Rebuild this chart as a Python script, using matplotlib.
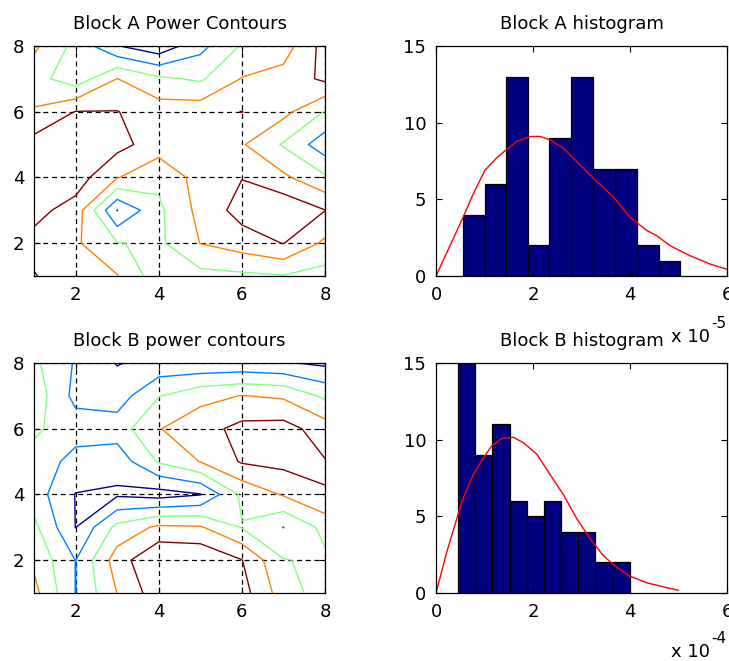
import numpy as np
import matplotlib
matplotlib.use("Agg")
import matplotlib.pyplot as plt

plt.rcParams['font.family'] = ['DejaVu Sans']
plt.rcParams['font.size'] = 13

# grid coordinates of the contour maps
grid_x = [1, 2, 3, 4, 5, 6, 7, 8]
grid_y = [1, 2, 3, 4, 5, 6, 7, 8]

# Block A power, rows are y = 1..8, columns x = 1..8
power_a = [
    [5.05, 4.5, 4.05, 2.4, 2.7, 2.8, 2.95, 2.6],
    [4.7, 4.15, 3.05, 2.8, 4.02, 4.5, 5.03, 3.8],
    [5.3, 4.6, 0.98, 2.8, 4.3, 5.4, 5.8, 5.02],
    [5.5, 5.5, 4.05, 3.23, 4.4, 4.97, 4.2, 3.15],
    [5.4, 5.6, 5.33, 4.5, 4.5, 4.1, 2.9, 1.4],
    [4.1, 5.03, 5.03, 4.5, 4.6, 5.02, 4.3, 2.95],
    [3.4, 2.4, 4.02, 3.2, 2.85, 4.05, 4.4, 5.2],
    [4.2, 2.7, 1.05, 0.3, 1.7, 3.1, 3.5, 5.4],
]

# Block B power
power_b = [
    [4.3, 1.98, 4.02, 5.6, 6.0, 5.4, 3.5, 2.5],
    [3.8, 1.98, 4.5, 6.0, 5.9, 5.03, 3.05, 2.8],
    [3.25, 0.98, 3.3, 4.2, 4.1, 2.95, 1.98, 3.3],
    [2.5, 0.97, 0.85, 0.6, 0.95, 3.2, 4.1, 4.98],
    [2.7, 1.6, 1.4, 3.1, 4.03, 5.1, 5.3, 5.05],
    [3.15, 2.5, 2.5, 3.95, 4.6, 5.3, 5.4, 4.5],
    [3.6, 1.7, 1.5, 2.95, 3.7, 4.03, 3.85, 2.8],
    [3.2, 1.9, 0.95, 1.3, 1.2, 1.25, 1.1, 0.8],
]

contour_levels = [1, 2, 3, 4, 5]

# histograms (x in units of 1e-5 for A, 1e-4 for B)
hist_a_edges = [0.55, 1.0, 1.45, 1.89, 2.34, 2.79, 3.24, 3.69, 4.14, 4.59, 5.04]
hist_a_counts = [4, 6, 13, 2, 9, 13, 7, 7, 2, 1]
fit_a_x = [0, 0.56, 0.77, 1.01, 1.25, 1.46, 1.66, 1.94, 2.15, 2.35, 2.63, 2.9,
           3.25, 3.66, 4.0, 4.35, 4.55, 4.83, 5.24, 5.66, 6.0]
fit_a_y = [0, 3.84, 5.37, 6.9, 7.7, 8.27, 8.77, 9.1, 9.1, 8.88, 8.33, 7.46,
           6.36, 5.15, 3.84, 2.96, 2.63, 1.97, 1.32, 0.77, 0.44]

hist_b_edges = [0.46, 0.81, 1.16, 1.52, 1.87, 2.22, 2.58, 2.93, 3.28, 3.64, 3.99]
hist_b_counts = [15, 9, 11, 6, 5, 6, 4, 4, 2, 2]
fit_b_x = [0, 0.22, 0.43, 0.56, 0.77, 0.98, 1.15, 1.36, 1.6, 1.8, 2.08, 2.35,
           2.63, 2.9, 3.18, 3.45, 3.73, 4.0, 4.35, 4.69, 5.0]
fit_b_y = [0, 2.65, 4.86, 6.18, 7.73, 8.83, 9.6, 10.1, 10.15, 9.8, 9.05, 7.73,
           6.4, 4.86, 3.53, 2.43, 1.66, 1.1, 0.66, 0.4, 0.18]

jet5 = ['#00008f', '#0080ff', '#80ff80', '#ff8000', '#800000']

W, H = 729, 661
fig = plt.figure(figsize=(W / 100, H / 100), dpi=100)


def px_axes(left, top, right, bottom):
    return fig.add_axes([left / W, 1 - bottom / H, (right - left) / W, (bottom - top) / H])


def style(ax):
    ax.tick_params(direction='in', length=4, top=True, right=True, width=0.8, pad=7)
    for s in ax.spines.values():
        s.set_linewidth(0.9)


def contour_panel(ax, z, title):
    X, Y = np.meshgrid(grid_x, grid_y)
    ax.contour(X, Y, np.array(z), levels=contour_levels, colors=jet5, linewidths=1.0)
    ax.set_xlim(1, 8)
    ax.set_ylim(1, 8)
    ax.set_xticks([2, 4, 6, 8])
    ax.set_yticks([2, 4, 6, 8])
    ax.grid(True, color='black', linestyle=(0, (4, 3)), linewidth=0.9)
    style(ax)
    ax.set_title(title, pad=12, fontsize=13)


def hist_panel(ax, edges, counts, fx, fy, title):
    edges = np.array(edges)
    ax.bar(edges[:-1], counts, width=np.diff(edges), align='edge',
           color='#000080', edgecolor='black', linewidth=0.9)
    ax.plot(fx, fy, color='red', linewidth=1.0)
    ax.set_xlim(0, 6)
    ax.set_ylim(0, 15)
    ax.set_xticks([0, 2, 4, 6])
    ax.set_yticks([0, 5, 10, 15])
    style(ax)
    ax.set_title(title, pad=12, fontsize=13)


ax1 = px_axes(34, 46, 325, 276)
contour_panel(ax1, power_a, 'Block A Power Contours')
ax2 = px_axes(436, 46, 727, 276)
hist_panel(ax2, hist_a_edges, hist_a_counts, fit_a_x, fit_a_y, 'Block A histogram')
ax3 = px_axes(34, 363, 325, 593)
contour_panel(ax3, power_b, 'Block B power contours')
ax4 = px_axes(436, 363, 727, 593)
hist_panel(ax4, hist_b_edges, hist_b_counts, fit_b_x, fit_b_y, 'Block B histogram')

# exponent labels like MATLAB
fig.text(710 / W, 1 - 342 / H, 'x 10', ha='right', va='baseline', fontsize=13)
fig.text(711 / W, 1 - 328 / H, '-5', ha='left', va='baseline', fontsize=11)
fig.text(710 / W, 1 - 657 / H, 'x 10', ha='right', va='baseline', fontsize=13)
fig.text(711 / W, 1 - 643 / H, '-4', ha='left', va='baseline', fontsize=11)

fig.savefig('out.png', dpi=100)
